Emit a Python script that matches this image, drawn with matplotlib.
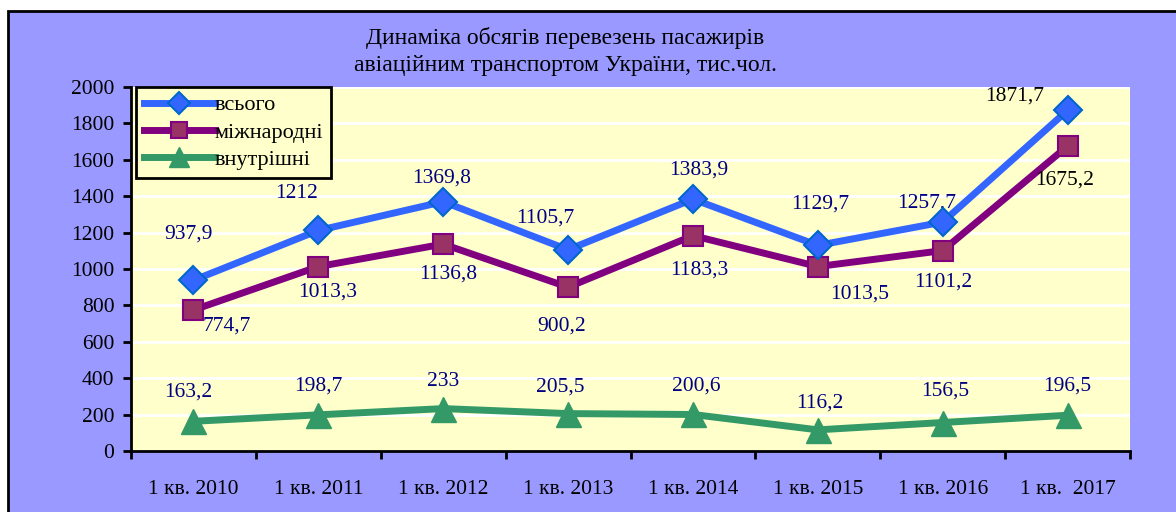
import matplotlib
matplotlib.use("Agg")
import matplotlib.pyplot as plt
from matplotlib.patches import Rectangle

plt.rcParams['font.family'] = ['Liberation Serif', 'DejaVu Serif']

# data
quarters = ["1 кв. 2010", "1 кв. 2011", "1 кв. 2012", "1 кв. 2013",
            "1 кв. 2014", "1 кв. 2015", "1 кв. 2016", "1 кв.  2017"]
total = [937.9, 1212, 1369.8, 1105.7, 1383.9, 1129.7, 1257.7, 1871.7]
intl = [774.7, 1013.3, 1136.8, 900.2, 1183.3, 1013.5, 1101.2, 1675.2]
domestic = [163.2, 198.7, 233, 205.5, 200.6, 116.2, 156.5, 196.5]

# label offsets in pixels (dx, dy) from each point
off_total = [(-5, 46), (-22, 37), (-2, 24), (-23, 32), (6, 29), (2, 41), (-16, 19), (-53, 14)]
off_intl = [(33, -16), (9, -25), (5, -30), (-7, -39), (6, -34), (42, -28), (1, -31), (-3, -34)]
off_dom = [(-5, 29), (0, 29), (0, 27), (-8, 27), (3, 28), (2, 27), (3, 31), (0, 29)]

def fmt(v):
    s = f"{v:.1f}".rstrip("0").rstrip(".")
    return s.replace(".", ",")

fig = plt.figure(figsize=(11.76, 5.12), dpi=100, facecolor="white")
# lavender chart area with black frame
frame = Rectangle((8 / 1176, -0.01), 1.0, 1.01 - 11 / 512, transform=fig.transFigure,
                  facecolor="#9999FF", edgecolor="black", linewidth=2, zorder=-5)
fig.add_artist(frame)

ax = fig.add_axes([131 / 1176, 61 / 512, 999 / 1176, 364 / 512])
ax.set_facecolor("#FFFFCC")
x = list(range(len(quarters)))

ax.plot(x, total, color="#3366FF", lw=5, marker="D", ms=14.5,
        mfc="#3366FF", mec="#0066CC", mew=1.5, label="всього", zorder=4)
ax.plot(x, intl, color="#800080", lw=5, marker="s", ms=15,
        mfc="#993366", mec="#800080", mew=1.5, label="міжнародні", zorder=3)
ax.plot(x, domestic, color="#339966", lw=5, marker="^", ms=18,
        mfc="#339966", mec="#339966", label="внутрішні", zorder=3)

for series, offs in ((total, off_total), (intl, off_intl), (domestic, off_dom)):
    for i, v in enumerate(series):
        col = "black" if i == len(series) - 1 and series is not domestic else "#000080"
        ax.annotate(fmt(v), (i, v), xytext=offs[i], textcoords="offset pixels",
                    ha="center", va="center", fontsize=15.5, color=col)

ax.set_xlim(-0.5, len(quarters) - 0.5)
ax.set_ylim(0, 2000)
ax.set_yticks(range(0, 2001, 200))
ax.yaxis.grid(True, color="white", lw=2)
ax.set_axisbelow(True)
ax.set_xticks(x)
ax.set_xticklabels(quarters)
ax.set_xticks([i - 0.5 for i in range(len(quarters) + 1)], minor=True)
ax.tick_params(axis="x", which="major", length=0, pad=21, labelsize=15.5)
ax.tick_params(axis="x", which="minor", length=6, width=2, direction="out")
ax.tick_params(axis="y", length=6, width=2, direction="out", labelsize=15.5, pad=6)
for s in ("top", "right"):
    ax.spines[s].set_visible(False)
for s in ("left", "bottom"):
    ax.spines[s].set_linewidth(2)

leg = ax.legend(loc="upper left", bbox_to_anchor=(0.005, 1.0), fontsize=16,
                frameon=True, fancybox=False, borderpad=0.35, labelspacing=0.3,
                handlelength=3.2, handletextpad=0.0, borderaxespad=0, markerscale=0.8)
leg.get_frame().set_edgecolor("black")
leg.get_frame().set_linewidth(2)
leg.get_frame().set_facecolor("#FFFFCC")
leg.get_frame().set_alpha(1)

fig.text(565 / 1176, 1 - 38 / 512, "Динаміка обсягів перевезень пасажирів",
         ha="center", va="center", fontsize=17)
fig.text(565 / 1176, 1 - 66 / 512, "авіаційним транспортом України, тис.чол.",
         ha="center", va="center", fontsize=17)

fig.savefig("out.png", dpi=100, facecolor=fig.get_facecolor())
